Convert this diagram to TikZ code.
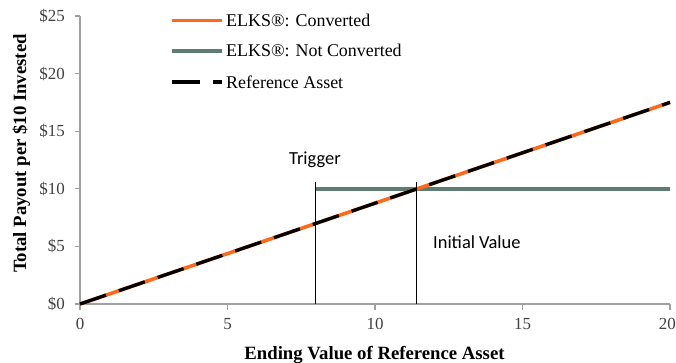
\documentclass[tikz,border=0pt]{standalone}
\usepackage{fontspec}
\setmainfont{Liberation Serif}
\newfontfamily\calib{Carlito}
\definecolor{elksorange}{HTML}{FF6A1A}
\definecolor{elksgreen}{HTML}{5F7C74}
\definecolor{axisgray}{HTML}{A0A0A0}
\definecolor{ticktext}{HTML}{404040}
\tikzset{
  axisline/.style={draw=axisgray, line width=1.1bp},
  conv/.style={draw=elksorange, line width=3.6bp},
  notconv/.style={draw=elksgreen, line width=4.2bp},
  refasset/.style={draw=black, line width=3.3bp, dash pattern=on 27.5bp off 13.5bp},
  marker/.style={draw=black, line width=1.2bp},
  ylab/.style={font=\fontsize{17}{20}\selectfont, text=ticktext, inner sep=0pt, anchor=east},
  xlab/.style={font=\fontsize{17}{20}\selectfont, text=ticktext, inner sep=0pt, anchor=base},
  legtext/.style={font=\fontsize{18}{21}\selectfont, inner sep=0pt, anchor=base west},
  axtitle/.style={font=\fontsize{18.8}{22}\selectfont\bfseries, inner sep=0pt, anchor=base},
  annot/.style={font=\calib\fontsize{18.5}{22}\selectfont, inner sep=0pt, anchor=base west}
}
\begin{document}
\begin{tikzpicture}[x=1bp, y=-1bp]
\useasboundingbox (0,0) rectangle (676,362);
% axes
\coordinate (o) at (80,304);
\coordinate (ytop) at (80,16);
\coordinate (xend) at (670,304);
\draw[axisline] (ytop) -- (o) -- (xend);
% y ticks and labels
\foreach \v/\yy in {0/304,5/246.4,10/188.8,15/131.2,20/73.6,25/16}{
  \coordinate (yt\v a) at (74.5,\yy);
  \coordinate (yt\v b) at (80,\yy);
  \draw[axisline] (yt\v a) -- (yt\v b);
  \node[ylab] (yl\v) at (65,\yy) {\$\v};
}
% x ticks and labels
\foreach \v/\xx in {0/80,5/227.5,10/375,15/522.5}{
  \coordinate (xt\v a) at (\xx,304);
  \coordinate (xt\v b) at (\xx,309.5);
  \draw[axisline] (xt\v a) -- (xt\v b);
  \node[xlab] (xl\v) at (\xx,329) {\v};
}
\coordinate (xt20a) at (670,304);
\coordinate (xt20b) at (670,309.5);
\draw[axisline] (xt20a) -- (xt20b);
\node[xlab, anchor=base east] (xl20) at (676,329) {20};
% axis titles
\node[axtitle] (xtitle) at (374.5,359.5) {Ending Value of Reference Asset};
\node[axtitle, rotate=90] (ytitle) at (26,153.5) {Total Payout per \$10 Invested};
% data
\coordinate (gstart) at (315,188.8);
\coordinate (gend) at (670,188.8);
\coordinate (dend) at (670,102.4);
\draw[notconv] (gstart) -- (gend);
\draw[conv] (o) -- (dend);
\draw[refasset] (o) -- (dend);
% trigger / initial value markers
\coordinate (trtop) at (315.5,182);
\coordinate (trbot) at (315.5,304);
\coordinate (ivtop) at (416.5,182);
\coordinate (ivbot) at (416.5,304);
\draw[marker] (trtop) -- (trbot);
\draw[marker] (ivtop) -- (ivbot);
\node[annot] (trig) at (289,164.5) {Trigger};
\node[annot] (init) at (433,248.5) {Initial Value};
% legend
\coordinate (l1a) at (172,20.5); \coordinate (l1b) at (222,20.5);
\coordinate (l2a) at (172,51); \coordinate (l2b) at (222,51);
\coordinate (l3a) at (172,82); \coordinate (l3b) at (222,82);
\draw[conv] (l1a) -- (l1b);
\draw[notconv] (l2a) -- (l2b);
\draw[refasset] (l3a) -- (l3b);
\node[legtext] (lt1) at (226,26) {ELKS®: Converted};
\node[legtext] (lt2) at (226,56.5) {ELKS®: Not Converted};
\node[legtext] (lt3) at (226,88) {Reference Asset};
\end{tikzpicture}
\end{document}
